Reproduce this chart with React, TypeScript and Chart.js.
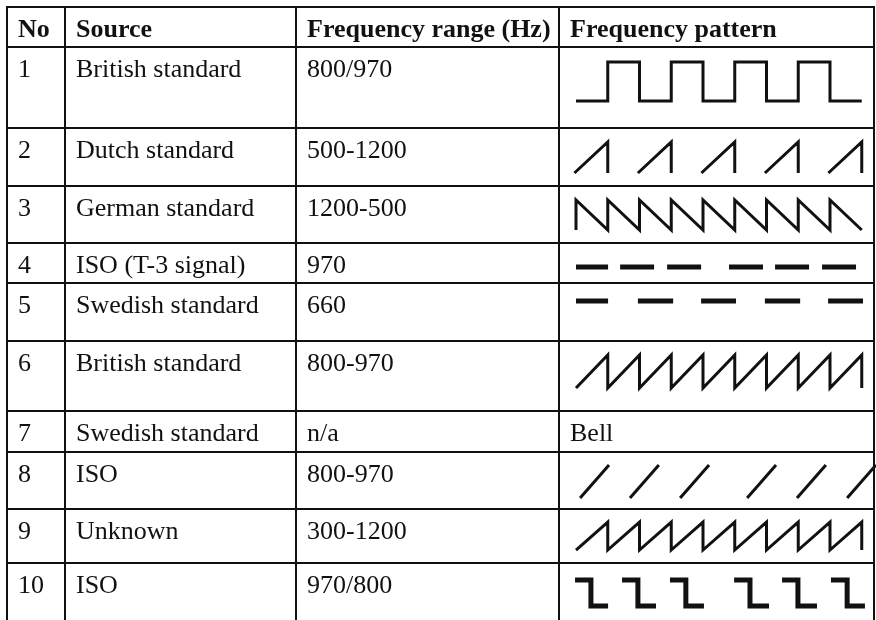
import React, { useEffect, useRef } from "react";
import { Chart, registerables } from "chart.js";

Chart.register(...registerables);

// ---------------- data ----------------
const headers = ["No", "Source", "Frequency range (Hz)", "Frequency pattern"];
const rowNumbers = ["1", "2", "3", "4", "5", "6", "7", "8", "9", "10"];
const sources = [
  "British standard",
  "Dutch standard",
  "German standard",
  "ISO (T-3 signal)",
  "Swedish standard",
  "British standard",
  "Swedish standard",
  "ISO",
  "Unknown",
  "ISO",
];
const ranges = ["800/970", "500-1200", "1200-500", "970", "660", "800-970", "n/a", "800-970", "300-1200", "970/800"];
const patternNotes = ["", "", "", "", "", "", "Bell", "", "", ""];

// Pattern vertices: [t, level], t in pattern periods, level 0 = low, 1 = high; null = pen up
type P = [number, number] | null;
const pattern1: P[] = [[0, 0], [1, 0], [1, 1], [2, 1], [2, 0], [3, 0], [3, 1], [4, 1], [4, 0], [5, 0], [5, 1], [6, 1], [6, 0], [7, 0], [7, 1], [8, 1], [8, 0], [9, 0]];
const pattern2: P[] = [[-0.05, 0], [1, 1], [1, 0], null, [1.95, 0], [3, 1], [3, 0], null, [3.95, 0], [5, 1], [5, 0], null, [5.95, 0], [7, 1], [7, 0], null, [7.95, 0], [9, 1], [9, 0]];
const pattern3: P[] = [[0, 0], [0, 1], [1, 0], [1, 1], [2, 0], [2, 1], [3, 0], [3, 1], [4, 0], [4, 1], [5, 0], [5, 1], [6, 0], [6, 1], [7, 0], [7, 1], [8, 0], [8, 1], [9, 0]];
const pattern4: P[] = [[0, 0], [1.01, 0], null, [1.39, 0], [2.46, 0], null, [2.87, 0], [3.94, 0], null, [4.82, 0], [5.89, 0], null, [6.27, 0], [7.34, 0], null, [7.75, 0], [8.82, 0]];
const pattern5: P[] = [[0, 0], [1.01, 0], null, [1.95, 0], [3.06, 0], null, [3.94, 0], [5.04, 0], null, [5.95, 0], [7.06, 0], null, [7.94, 0], [9.04, 0]];
const pattern6: P[] = [[0, 0], [1, 1], [1, 0], [2, 1], [2, 0], [3, 1], [3, 0], [4, 1], [4, 0], [5, 1], [5, 0], [6, 1], [6, 0], [7, 1], [7, 0], [8, 1], [8, 0], [9, 1], [9, 0]];
const pattern7: P[] = [];
const pattern8: P[] = [[0.13, 0], [1.04, 1], null, [1.7, 0], [2.61, 1], null, [3.28, 0], [4.19, 1], null, [5.39, 0], [6.3, 1], null, [6.96, 0], [7.87, 1], null, [8.54, 0], [9.45, 1]];
const pattern9: P[] = [[0, 0], [1, 1], [1, 0], [2, 1], [2, 0], [3, 1], [3, 0], [4, 1], [4, 0], [5, 1], [5, 0], [6, 1], [6, 0], [7, 1], [7, 0], [8, 1], [8, 0], [9, 1], [9, 0]];
const pattern10: P[] = [[-0.03, 1], [0.47, 1], [0.47, 0], [1.01, 0], null, [1.45, 1], [1.95, 1], [1.95, 0], [2.52, 0], null, [2.96, 1], [3.46, 1], [3.46, 0], [4.03, 0], null, [4.98, 1], [5.48, 1], [5.48, 0], [6.08, 0], null, [6.49, 1], [6.99, 1], [6.99, 0], [7.59, 0], null, [8.03, 1], [8.54, 1], [8.54, 0], [9.1, 0]];
const patterns = [pattern1, pattern2, pattern3, pattern4, pattern5, pattern6, pattern7, pattern8, pattern9, pattern10];

// ---------------- layout (positions / sizes / styles) ----------------
const W = 876;
const H = 620;
const COL_EDGES = [7, 65, 296, 559, 874];
const ROW_EDGES = [7, 47, 128, 186, 243, 283, 341, 411, 452, 509, 563];
const CELL_PAD_X = 11;
const BASELINE = 29.5;
const PATTERN_X0 = 576;
const PERIOD = 31.75;
// [low offset, high offset] from the top of each body row
const PATTERN_Y = [[54, 15], [45, 14], [44, 14], [24, 24], [18, 18], [47, 14], [0, 0], [46, 13], [41, 13], [43, 17]];
const PATTERN_LW = [3, 3, 3, 5, 5, 3, 0, 3, 3, 5];
const INK = "#111111";
const FONT = '"Liberation Serif", "DejaVu Serif", serif';
const FONT_SIZE = 26;

const textPlugin = {
  id: "tableText",
  afterDraw(chart: any) {
    const { ctx } = chart;
    const xs = chart.scales.x;
    const ys = chart.scales.y;
    ctx.save();
    ctx.fillStyle = INK;
    ctx.textBaseline = "alphabetic";
    ctx.textAlign = "left";
    const colX = (c: number) => xs.getPixelForValue(COL_EDGES[c]) + CELL_PAD_X;
    const rowY = (r: number) => ys.getPixelForValue(ROW_EDGES[r]) + BASELINE;
    ctx.font = `bold ${FONT_SIZE}px ${FONT}`;
    headers.forEach((h, c) => ctx.fillText(h, colX(c), rowY(0)));
    ctx.font = `${FONT_SIZE}px ${FONT}`;
    for (let i = 0; i < rowNumbers.length; i++) {
      const y = rowY(i + 1);
      ctx.fillText(rowNumbers[i], colX(0), y);
      ctx.fillText(sources[i], colX(1), y);
      ctx.fillText(ranges[i], colX(2), y);
      if (patternNotes[i]) ctx.fillText(patternNotes[i], colX(3), y);
    }
    ctx.restore();
  },
};

function buildDatasets() {
  return patterns.map((pts, i) => {
    const top = ROW_EDGES[i + 1];
    const [lo, hi] = PATTERN_Y[i];
    return {
      label: `Pattern ${i + 1}`,
      data: pts.map((p) =>
        p
          ? { x: PATTERN_X0 + p[0] * PERIOD, y: top + lo - p[1] * (lo - hi) }
          : { x: null, y: null }
      ),
      showLine: true,
      spanGaps: false,
      borderColor: INK,
      borderWidth: PATTERN_LW[i],
      borderJoinStyle: "miter",
      borderCapStyle: "butt",
      pointRadius: 0,
      pointHoverRadius: 0,
      tension: 0,
      clip: false,
    };
  });
}

const gridScale = (edges: number[], min: number, max: number, reverse: boolean) => ({
  type: "linear",
  min,
  max,
  reverse,
  afterBuildTicks: (s: any) => {
    s.ticks = edges.map((v) => ({ value: v }));
  },
  ticks: { display: false },
  grid: { color: INK, lineWidth: 2, drawTicks: false, tickLength: 0 },
  border: { display: false },
});

export default function App() {
  const ref = useRef<HTMLCanvasElement | null>(null);
  useEffect(() => {
    if (!ref.current) return;
    const chart = new Chart(ref.current, {
      type: "scatter",
      data: { datasets: buildDatasets() as any },
      options: {
        animation: false,
        responsive: true,
        maintainAspectRatio: false,
        events: [],
        layout: { padding: { left: 6, top: 6, right: W - 875, bottom: 0 } },
        plugins: { legend: { display: false }, tooltip: { enabled: false } },
        scales: {
          x: gridScale(COL_EDGES, 6, 875, false) as any,
          y: gridScale(ROW_EDGES, 6, H, true) as any,
        },
      },
      plugins: [textPlugin],
    });
    return () => chart.destroy();
  }, []);
  return (
    <div style={{ position: "absolute", left: 0, top: 0, width: W, height: H, background: "#fff" }}>
      <canvas ref={ref} />
    </div>
  );
}
